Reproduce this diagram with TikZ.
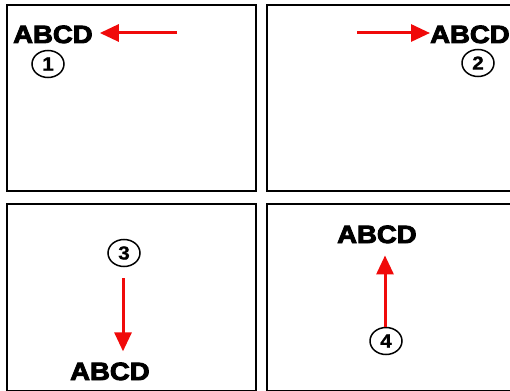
\documentclass[tikz,border=0pt]{standalone}
\usepackage{fontspec}
\usepackage{graphicx}
\setmainfont{Liberation Sans}
\newfontfamily\heavyfont{Liberation Sans Bold}[FakeBold=3.5]
\newfontfamily\digitfont{Liberation Sans Bold}[FakeBold=0.8]
\usetikzlibrary{arrows.meta,shapes.geometric}
\definecolor{arrred}{RGB}{240,10,10}
\newcommand\hstretch[1]{\scalebox{1.1}[1]{#1}}
\begin{document}
\begin{tikzpicture}[x=1pt,y=-1pt,
  panel/.style={draw=black, line width=1.8pt},
  word/.style={font=\fontsize{25}{25}\heavyfont, inner sep=0pt},
  num/.style={draw, line width=1.5pt, ellipse, minimum width=32pt, minimum height=27pt, inner sep=0pt, font=\fontsize{19}{19}\digitfont},
  arr/.style={draw=arrred, line width=3pt, -{Triangle[length=19pt,width=17pt]}}]
\useasboundingbox (0,0) rectangle (510,390);
\begin{scope}
\clip (0,0) rectangle (510,390);
\draw[panel] (7,5) rectangle (256,191);
\draw[panel] (267,5) rectangle (530,191);
\draw[panel] (7,204) rectangle (256,390.6);
\draw[panel] (267,204) rectangle (530,390.6);

% panel 1
\node[word, anchor=base west] (a1) at (13,43) {\hstretch{ABCD}};
\node[num] (c1) at (48,64) {\hstretch{1}};
\coordinate (t1) at (177,33);
\draw[arr, shorten >=7pt] (t1) -- (t1 -| a1.east);

% panel 2
\node[word, anchor=base west] (a2) at (430,43) {\hstretch{ABCD}};
\node[num] (c2) at (478,63) {\hstretch{2}};
\coordinate (t2) at (357,33);
\draw[arr] (t2) -- (t2 -| a2.west);

% panel 3
\node[num] (c3) at (124,253) {\hstretch{3}};
\node[word, anchor=base west] (a3) at (70,380) {\hstretch{ABCD}};
\coordinate (t3) at (123,278);
\draw[arr, shorten >=11pt] (t3) -- (t3 |- a3.north);

% panel 4
\node[word, anchor=base west] (a4) at (337,243) {\hstretch{ABCD}};
\node[num] (c4) at (386,341) {\hstretch{4}};
\coordinate (t4) at (385,327);
\draw[arr, shorten >=12pt] (t4) -- (t4 |- a4.south);
\end{scope}
\end{tikzpicture}
\end{document}
